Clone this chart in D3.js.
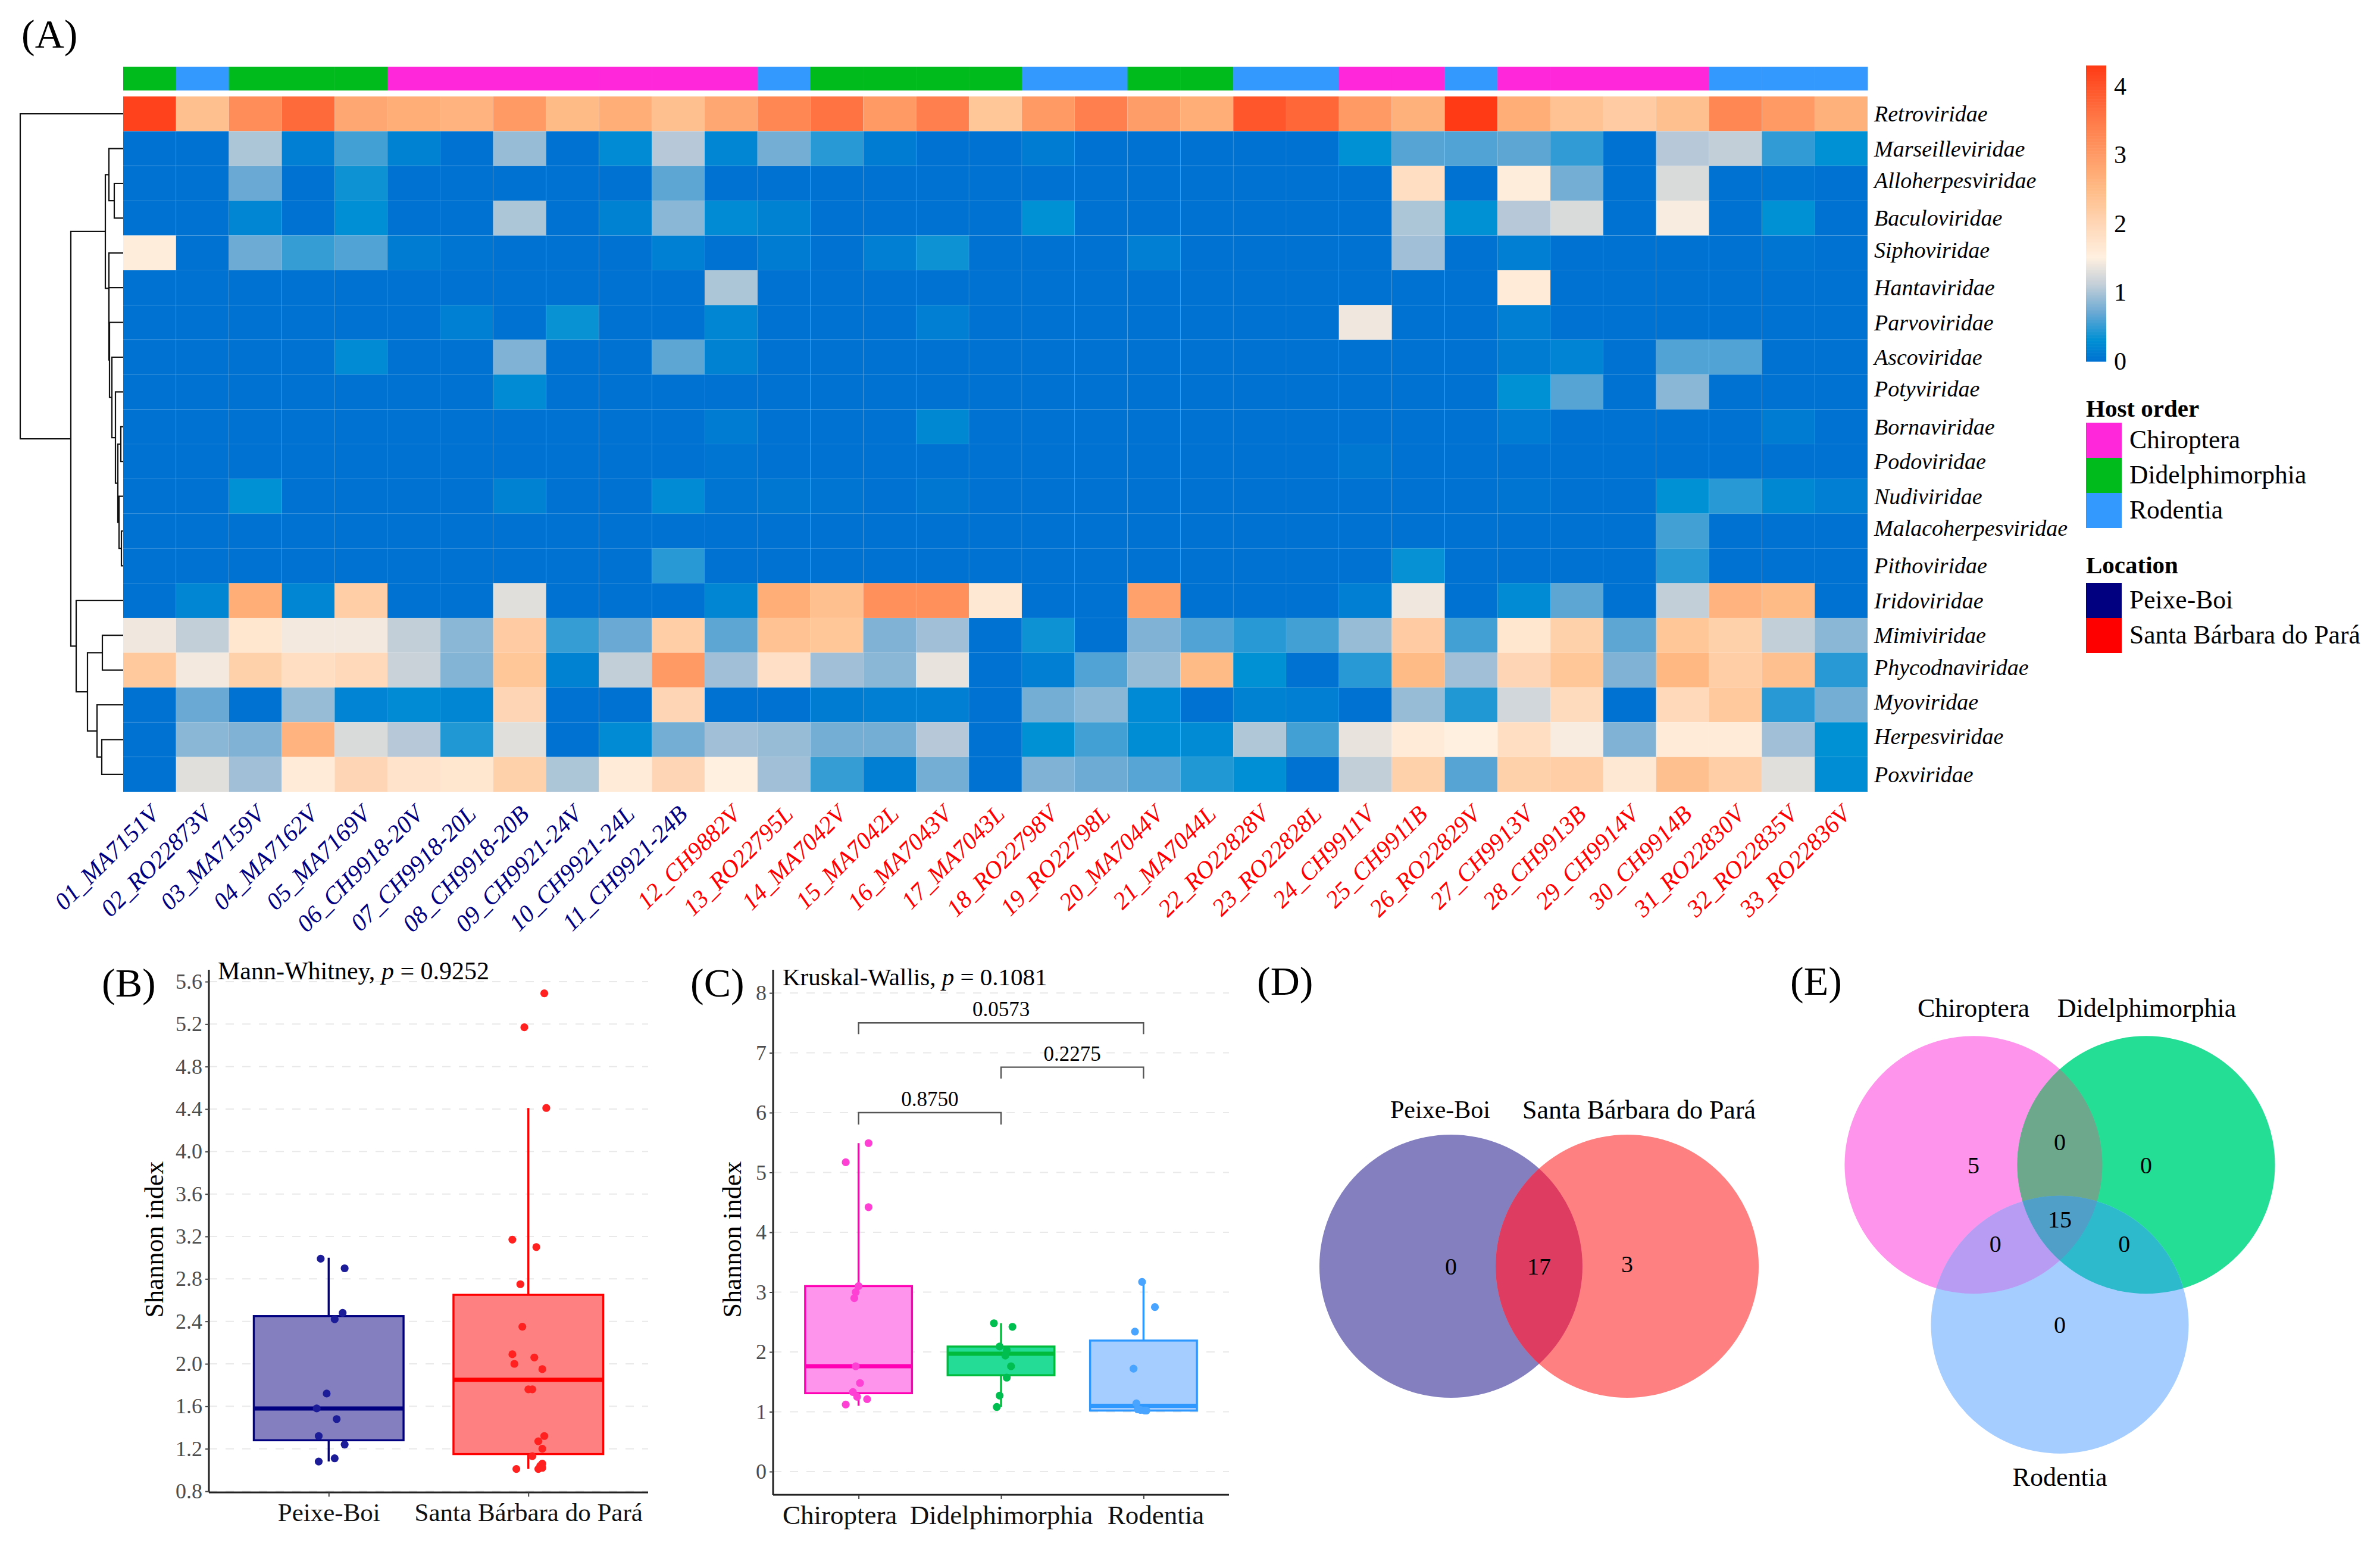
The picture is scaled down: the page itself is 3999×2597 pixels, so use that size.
<!DOCTYPE html>
<html><head><meta charset="utf-8">
<script src="https://cdnjs.cloudflare.com/ajax/libs/d3/7.8.5/d3.min.js"></script>
<style>html,body{margin:0;padding:0;background:#fff}svg{display:block}text{font-family:"Liberation Serif",serif}</style>
</head><body><svg id="c" width="3999" height="2597" xmlns="http://www.w3.org/2000/svg"></svg>
<script>
// ---------- DATA ----------
const samples=["01_MA7151V","02_RO22873V","03_MA7159V","04_MA7162V","05_MA7169V","06_CH9918-20V","07_CH9918-20L","08_CH9918-20B","09_CH9921-24V","10_CH9921-24L","11_CH9921-24B","12_CH9882V","13_RO22795L","14_MA7042V","15_MA7042L","16_MA7043V","17_MA7043L","18_RO22798V","19_RO22798L","20_MA7044V","21_MA7044L","22_RO22828V","23_RO22828L","24_CH9911V","25_CH9911B","26_RO22829V","27_CH9913V","28_CH9913B","29_CH9914V","30_CH9914B","31_RO22830V","32_RO22835V","33_RO22836V"];
const hostOf=["D","R","D","D","D","C","C","C","C","C","C","C","R","D","D","D","D","R","R","D","D","R","R","C","C","R","C","C","C","C","R","R","R"];
const families=["Retroviridae","Marseilleviridae","Alloherpesviridae","Baculoviridae","Siphoviridae","Hantaviridae","Parvoviridae","Ascoviridae","Potyviridae","Bornaviridae","Podoviridae","Nudiviridae","Malacoherpesviridae","Pithoviridae","Iridoviridae","Mimiviridae","Phycodnaviridae","Myoviridae","Herpesviridae","Poxviridae"];
const retro=[4.2,2.4,3.2,3.7,2.8,2.7,2.6,3.0,2.5,2.7,2.4, 2.8,3.3,3.6,3.0,3.4,2.3,3.0,3.4,2.95,2.7,3.95, 3.75,3.0,2.65,4.3,2.7,2.35,2.2,2.4,3.3,3.0,2.65];
const marse=[0,0,1.0,.12,.55,.15,0,.9,0,.25,1.05, .2,.75,.45,.1,0,0,.1,0,0,0,0, 0,.3,.62,.6,.65,.48,0,1.05,1.1,.48,.3];
const allo=[0,0,.7,0,.35,0,0,0,0,0,.65, 0,0,0,0,0,0,0,0,0,0,0, 0,0,1.85,0,1.55,.75,0,1.25,0,.02,0];
const bacu=[0,0,.2,0,.28,0,0,1.0,0,.15,.85, .25,.15,0,0,0,0,.3,0,0,0,0, 0,0,1.0,.3,1.05,1.25,0,1.45,0,.3,0];
const sipho=[1.55,0,.72,.5,.6,.1,.03,0,0,0,.13, 0,.1,0,.12,.35,0,0,0,.12,0,0, 0,0,.95,0,.12,0,0,0,0,.02,0];
const hanta=[0,0,0,0,0,0,0,0,0,0,0, 1.0,0,0,0,0,0,0,0,0,0,0, 0,0,0,0,1.6,0,0,0,0,0,0];
const parvo=[0,0,0,0,0,0,.13,0,.33,0,0, .2,0,0,0,.12,0,0,0,0,0,0, 0,1.4,0,0,.12,0,0,0,0,0,0];
const asco=[0,0,0,0,.25,0,0,.8,0,0,.65, .15,0,0,0,0,0,0,0,0,0,0, 0,0,0,0,.1,.18,0,.6,.6,0,0];
const poty=[0,0,0,0,0,0,0,.25,0,0,0, 0,0,0,0,0,0,0,0,0,0,0, 0,0,0,0,.3,.62,0,.85,0,0,0];
const borna=[0,0,0,0,0,0,0,0,0,0,0, .1,0,0,0,.22,0,0,0,0,0,0, 0,0,0,0,.08,0,0,0,0,.1,0];
const podo=[0,0,0,0,0,0,0,0,0,0,0, .02,0,0,0,0,0,0,0,0,0,0, 0,.05,0,0,0,0,0,0,0,0,0];
const nudi=[0,0,.3,0,0,0,0,.15,0,0,.25, .03,.05,.03,0,.05,0,0,0,0,0,0, 0,0,0,0,.03,0,0,.3,.45,.22,.12];
const malaco=[0,0,0,0,0,0,0,0,0,0,0, 0,0,0,0,0,0,0,0,0,0,0, 0,0,0,0,0,0,0,.55,0,0,0];
const pitho=[0,0,0,0,0,0,0,0,0,0,.45, 0,0,0,0,0,0,0,0,0,0,0, 0,0,.32,0,0,0,0,.45,0,0,0];
const irido=[0,.2,2.7,.2,2.15,0,0,1.3,0,0,0, .2,2.7,2.4,3.15,3.15,1.65,0,0,2.9,0,0, 0,.12,1.4,0,.25,.65,0,1.1,2.6,2.5,0];
const mimi=[1.4,1.1,1.7,1.42,1.42,1.1,.85,2.2,.5,.7,2.15, .65,2.35,2.3,.8,.95,0,.35,0,.8,.6,.45, .55,.9,2.2,.55,1.7,2.1,.65,2.3,2.1,1.1,.85];
const phyco=[2.25,1.42,2.1,1.85,1.95,1.15,.82,2.3,.15,1.1,3.0, .95,1.8,.95,.85,1.35,0,.12,.6,.9,2.5,.3, 0,.45,2.5,.95,2.0,2.3,.8,2.55,2.15,2.4,.45];
const myo=[0,.7,0,.9,.18,.25,.2,2.0,0,0,2.0, 0,0,.1,.12,.12,0,.75,.85,.23,0,.15, .12,0,.9,.42,1.2,1.9,0,1.95,2.25,.45,.75];
const herpes=[0,.85,.8,2.6,1.25,1.05,.42,1.3,0,.25,.75, .95,.9,.75,.75,1.05,0,.3,.55,.27,.25,1.02, .55,1.35,1.6,1.5,1.85,1.45,.8,1.6,1.6,.95,.3];
const pox=[0,1.3,.95,1.6,2.0,1.75,1.7,2.1,1.0,1.6,2.0, 1.5,.95,.5,.12,.75,0,.8,.72,.63,.42,.28, 0,1.1,2.1,.62,2.1,2.15,1.65,2.4,2.15,1.3,.27];
const heatRows=[retro,marse,allo,bacu,sipho,hanta,parvo,asco,poty,borna,podo,nudi,malaco,pitho,irido,mimi,phyco,myo,herpes,pox];
const colorStops=[0,.3,.7,1.1,1.5,2,2.5,3,3.5,4.3];
const colorVals=["#0073d2","#0090d4","#6aa9d4","#c2ced8","#fff0e0","#ffd6b5","#ffbb85","#ff9a65","#ff7a48","#ff3a15"];
// dendrogram: [merge height, child, child]
const dendro=[173,"Retroviridae",[88,
 [30,[24,"Marseilleviridae",[15,"Alloherpesviridae","Baculoviridae"]],
  [24,"Siphoviridae",[24,"Hantaviridae",[23,"Parvoviridae",[19,"Ascoviridae",[13,"Potyviridae",[9,[4,"Bornaviridae","Podoviridae"],[7,"Nudiviridae",[3,"Malacoherpesviridae","Pithoviridae"]]]]]]]]],
 [79,"Iridoviridae",[60,[35,"Mimiviridae","Phycodnaviridae"],[44,"Myoviridae",[36,"Herpesviridae","Poxviridae"]]]]]];
const locGroups=["Peixe-Boi","Santa Bárbara do Pará"];
const hostGroups=["Chiroptera","Didelphimorphia","Rodentia"];
// box statistics: whisker low, Q1, median, Q3, whisker high
const pbStats=[1.08,1.28,1.58,2.45,3.0], sbStats=[1.01,1.15,1.85,2.65,4.41];
const chStats=[1.10,1.31,1.76,3.10,5.49], diStats=[1.08,1.61,1.97,2.09,2.48], roStats=[1.01,1.02,1.10,2.19,3.17];
const pbVals=[2.99,2.90,2.48,2.42,1.72,1.58,1.48,1.32,1.24,1.11,1.08], pbJit=[-.04,.08,.07,.03,-.01,-.06,.04,-.05,.08,.03,-.05];
const sbVals=[5.49,5.17,4.41,3.17,3.10,2.75,2.35,2.09,2.06,2.0,1.95,1.76,1.76,1.32,1.27,1.20,1.13,1.06,1.04,1.02,1.01,1.01];
const sbJit=[.08,-.02,.09,-.08,.04,-.04,-.03,-.08,.03,-.07,.07,0,.02,.08,.05,.07,.02,.07,.06,.07,-.06,.05];
const chVals=[5.49,5.17,4.42,3.10,3.0,2.9,1.76,1.48,1.33,1.25,1.21,1.12], chJit=[.07,-.09,.07,0,-.02,-.03,-.02,.01,-.04,-.01,.06,-.09];
const diVals=[2.48,2.42,2.09,2.03,1.94,1.76,1.57,1.27,1.08], diJit=[-.05,.08,-.01,.04,.03,.07,.04,-.01,-.03];
const roVals=[3.17,2.75,2.34,1.72,1.14,1.04,1.03,1.02,1.02], roJit=[-.01,.08,-.06,-.07,-.05,-.04,-.02,.01,.02];
const bTicks=[0.8,1.2,1.6,2.0,2.4,2.8,3.2,3.6,4.0,4.4,4.8,5.2,5.6], cTicks=[0,1,2,3,4,5,6,7,8];
const brackets=[{a:0,b:2,y:7.5,t:7.31,l:"0.0573"},{a:1,b:2,y:6.76,t:6.57,l:"0.2275"},{a:0,b:1,y:6.0,t:5.8,l:"0.8750"}];
// venn layout in unit-circle coordinates
const vennD=[{n:"Peixe-Boi",x:-.67,y:0},{n:"Santa Bárbara do Pará",x:.67,y:0}];
const vennE=[{n:"Chiroptera",x:-.67,y:-.62},{n:"Didelphimorphia",x:.67,y:-.62},{n:"Rodentia",x:0,y:.62}];
const vennDCounts=[{v:"0",x:-.67,y:0},{v:"17",x:0,y:0},{v:"3",x:.67,y:-.02}];
const vennECounts=[{v:"5",x:-.67,y:-.62},{v:"0",x:0,y:-.8},{v:"0",x:.67,y:-.62},{v:"15",x:0,y:-.2},{v:"0",x:-.5,y:-.01},{v:"0",x:.5,y:-.01},{v:"0",x:0,y:.62}];

// ---------- COLOURS ----------
const HOST={C:"#ff27d9",D:"#00bb1c",R:"#3399ff"}, NAVY="#000080", RED="#ff0000";
const heatColor=d3.scaleLinear().domain(colorStops).range(colorVals).clamp(true);
const svg=d3.select("#c");
svg.append("rect").attr("width",3999).attr("height",2597).attr("fill","#fff");
function T(g,x,y,s,size,o={}){const t=g.append("text").attr("x",x).attr("y",y).attr("font-size",size).text(s);
 Object.entries(o).forEach(([k,v])=>t.attr(k,v));return t;}

// ---------- PANEL LETTERS ----------
[["(A)",36,80],["(B)",171,1674],["(C)",1160,1674],["(D)",2112,1671],["(E)",3008,1671]].forEach(d=>T(svg,d[1],d[2],d[0],68,{fill:"#000"}));

// ---------- HEATMAP ----------
const gh=svg.append("g");
const xH=d3.scaleBand().domain(samples).range([207,3138]);
const yH=d3.scaleBand().domain(families).range([162,1330]);
gh.selectAll("rect.host").data(samples).join("rect").attr("class","host").attr("x",d=>xH(d)).attr("y",112).attr("width",xH.bandwidth()+.5).attr("height",40)
  .attr("fill",(d,i)=>HOST[hostOf[i]]);
families.forEach((f,r)=>{
 gh.append("g").selectAll("rect").data(heatRows[r]).join("rect")
  .attr("x",(d,i)=>xH(samples[i])).attr("y",yH(f)).attr("width",xH.bandwidth()).attr("height",yH.bandwidth())
  .attr("fill",d=>heatColor(d)).attr("stroke","#fff").attr("stroke-opacity",.06).attr("stroke-width",1);
 T(gh,3149,yH(f)+yH.bandwidth()/2+13-(/[pyg]/.test(f)?5:0),f,38,{"font-style":"italic",fill:"#000"});
});
samples.forEach((s,i)=>{
 const cx=xH(s)+xH.bandwidth()/2+18,cy=1370;
 T(gh,cx,cy,s,41,{"font-style":"italic","text-anchor":"end",fill:i<11?NAVY:RED,transform:`rotate(-45 ${cx} ${cy})`});
});
// dendrogram
const xD=d3.scaleLinear().domain([0,173]).range([207,34]);
const gd=svg.append("g").attr("fill","none").attr("stroke","#111").attr("stroke-width",2.2);
function drawTree(n){
 if(typeof n==="string")return {x:xD(0),y:yH(n)+yH.bandwidth()/2};
 const a=drawTree(n[1]),b=drawTree(n[2]),x=xD(n[0]);
 gd.append("path").attr("d",d3.line()([[a.x,a.y],[x,a.y],[x,b.y],[b.x,b.y]]));
 return {x,y:(a.y+b.y)/2};
}
drawTree(dendro);
// colour bar legend
const yC=d3.scaleLinear().domain([0,4.3]).range([607,110]);
svg.append("g").selectAll("rect").data(d3.range(0,4.3,.0215)).join("rect").attr("x",3505).attr("width",34)
 .attr("y",d=>yC(d+.0215)).attr("height",d=>yC(d)-yC(d+.0215)+.6).attr("fill",d=>heatColor(d));
[0,1,2,3,4].forEach(v=>T(svg,3552,yC(v)+14,v,42,{fill:"#000"}));
// categorical legends
function legend(title,ty,items,top){
 T(svg,3505,ty,title,41,{"font-weight":"bold",fill:"#000"});
 items.forEach((it,i)=>{svg.append("rect").attr("x",3505).attr("y",top+i*59).attr("width",60).attr("height",59).attr("fill",it[1]);
  T(svg,3578,top+i*59+43,it[0],43.5,{fill:"#000"});});
}
legend("Host order",700,[["Chiroptera",HOST.C],["Didelphimorphia",HOST.D],["Rodentia",HOST.R]],710);
legend("Location",963,[["Peixe-Boi",NAVY],["Santa Bárbara do Pará",RED]],979);

// ---------- BOX PANELS ----------
function boxPanel(o){
 const g=svg.append("g");
 const y=d3.scaleLinear().domain(o.dom).range(o.rng);
 const x=d3.scalePoint().domain(o.groups).range(o.xr).padding(.6);
 const w=x.step()*.75;
 // grid
 g.append("g").selectAll("line").data(o.ticks).join("line").attr("x1",o.xr[0]).attr("x2",o.xr[1]).attr("y1",d=>y(d)).attr("y2",d=>y(d))
  .attr("stroke","#e9e9e9").attr("stroke-width",2).attr("stroke-dasharray","14 14");
 o.groups.forEach((name,i)=>{
  const [lo,q1,med,q3,hi]=o.stats[i], c=o.cols[i], cx=x(name);
  const bg=g.append("g").attr("stroke",c.line).attr("stroke-width",3.4);
  bg.append("line").attr("x1",cx).attr("x2",cx).attr("y1",y(lo)).attr("y2",y(hi));
  bg.append("rect").attr("x",cx-w/2).attr("width",w).attr("y",y(q3)).attr("height",y(q1)-y(q3)).attr("fill",c.fill);
  bg.append("line").attr("x1",cx-w/2).attr("x2",cx+w/2).attr("y1",y(med)).attr("y2",y(med)).attr("stroke-width",7);
  g.append("g").selectAll("circle").data(o.vals[i]).join("circle").attr("cx",(d,j)=>cx+o.jit[i][j]*x.step()).attr("cy",d=>y(d)).attr("r",6.6).attr("fill",c.pt);
 });
 const ax=g.append("g").attr("transform",`translate(${o.xr[0]},0)`).call(d3.axisLeft(y).tickValues(o.ticks).tickSize(6).tickFormat(o.fmt));
 ax.select(".domain").attr("d",`M0,${o.top}V${o.rng[0]+o.bottomPad}`).attr("stroke","#222").attr("stroke-width",3);
 ax.selectAll(".tick line").attr("stroke","#444").attr("stroke-width",2);
 ax.selectAll(".tick text").attr("font-size",36).attr("fill","#4d4d4d").attr("x",-11).attr("font-family","Liberation Serif");
 const bx=g.append("g").attr("transform",`translate(0,${o.rng[0]+o.bottomPad})`).call(d3.axisBottom(x).tickSize(7));
 bx.select(".domain").attr("d",`M${o.xr[0]},0H${o.xr[1]}`).attr("stroke","#222").attr("stroke-width",3);
 bx.selectAll(".tick line").attr("stroke","#444").attr("stroke-width",2);
 bx.selectAll(".tick text").attr("font-size",o.xfs).attr("fill","#111").attr("y",17).attr("font-family","Liberation Serif").attr("dx",(d,i)=>o.xOff[i]);
 const tx=o.yLabX,ty=2082;
 T(g,tx,ty,"Shannon index",44,{"text-anchor":"middle",fill:"#000",transform:`rotate(-90 ${tx} ${ty})`});
 const t=T(g,o.title[0],o.title[1],o.title[2],o.title[3],{fill:"#000"});
 t.append("tspan").attr("font-style","italic").text("p");t.append("tspan").text(o.title[4]);
 return {x,y,g};
}
boxPanel({dom:[.8,5.6],rng:[2505,1649],xr:[351,1089],top:1629,bottomPad:2,groups:locGroups,ticks:bTicks,fmt:d3.format(".1f"),
 stats:[pbStats,sbStats],vals:[pbVals,sbVals],jit:[pbJit,sbJit],xfs:43,xOff:[0,0],yLabX:274,
 cols:[{line:NAVY,fill:"#8480c0",pt:"#1c1c98"},{line:RED,fill:"#ff8080",pt:"#ff2020"}],
 title:[366,1645,"Mann-Whitney, ",42," = 0.9252"]});
const pc=boxPanel({dom:[0,8],rng:[2472,1668],xr:[1299,2065],top:1629,bottomPad:39,groups:hostGroups,ticks:cTicks,fmt:d3.format("d"),
 stats:[chStats,diStats,roStats],vals:[chVals,diVals,roVals],jit:[chJit,diJit,roJit],xfs:45,xOff:[-32,0,20],yLabX:1245,
 cols:[{line:"#ff00b4",fill:"#ff94ec",pt:"#ff40d4"},{line:"#00bb3c",fill:"#24dc96",pt:"#00bf50"},{line:"#2e98ff",fill:"#a5cdff",pt:"#48a4ff"}],
 title:[1315,1655,"Kruskal-Wallis, ",41," = 0.1081"]});
brackets.forEach(b=>{
 const xa=pc.x(hostGroups[b.a]),xb=pc.x(hostGroups[b.b]);
 pc.g.append("path").attr("d",d3.line()([[xa,pc.y(b.t)],[xa,pc.y(b.y)],[xb,pc.y(b.y)],[xb,pc.y(b.t)]])).attr("fill","none").attr("stroke","#555").attr("stroke-width",2.4);
 T(pc.g,(xa+xb)/2,pc.y(b.y)-11,b.l,35,{"text-anchor":"middle",fill:"#000"});
});

// ---------- VENN ----------
function clip(id,c,cl){const p=svg.append("clipPath").attr("id",id);if(cl)p.attr("clip-path",`url(#${cl})`);
 p.append("circle").attr("cx",c.cx).attr("cy",c.cy).attr("r",c.r);}
function circ(c,fill,cl){const e=svg.append("circle").attr("cx",c.cx).attr("cy",c.cy).attr("r",c.r).attr("fill",fill);if(cl)e.attr("clip-path",`url(#${cl})`);return e;}
// D
const r2=221, sxD=d3.scaleLinear().domain([-1,1]).range([2586-r2,2586+r2]), syD=d3.scaleLinear().domain([-1,1]).range([2127-r2,2127+r2]);
const cD=vennD.map(d=>({cx:sxD(d.x),cy:syD(d.y),r:r2}));
circ(cD[0],"#8480c0");circ(cD[1],"#ff8080");clip("cD0",cD[0]);circ(cD[1],"#de3c60","cD0");
T(svg,2420,1878,vennD[0].n,42,{"text-anchor":"middle",fill:"#000"});
T(svg,2754,1879,vennD[1].n,44,{"text-anchor":"middle",fill:"#000"});
vennDCounts.forEach(d=>T(svg,sxD(d.x),syD(d.y)+14,d.v,40,{"text-anchor":"middle",fill:"#000"}));
// E
const r3=216.5, sxE=d3.scaleLinear().domain([-1,1]).range([3461-r3,3461+r3]), syE=d3.scaleLinear().domain([-1,1]).range([2091-r3,2091+r3]);
const cE=vennE.map(d=>({cx:sxE(d.x),cy:syE(d.y),r:r3}));
circ(cE[0],"#ff94ec");circ(cE[1],"#24de96");circ(cE[2],"#a5cdff");
clip("cE0",cE[0]);clip("cE1",cE[1]);clip("cE2",cE[2]);
circ(cE[1],"#6ea88c","cE0");circ(cE[2],"#b89cf4","cE0");circ(cE[2],"#2cbacc","cE1");
svg.append("g").attr("clip-path","url(#cE0)").append("g").attr("clip-path","url(#cE1)").append("circle").attr("cx",cE[2].cx).attr("cy",cE[2].cy).attr("r",r3).attr("fill","#509fc8");
T(svg,3316,1708,vennE[0].n,44,{"text-anchor":"middle",fill:"#000"});
T(svg,3607,1708,vennE[1].n,44,{"text-anchor":"middle",fill:"#000"});
T(svg,3461,2496,vennE[2].n,44,{"text-anchor":"middle",fill:"#000"});
vennECounts.forEach(d=>T(svg,sxE(d.x),syE(d.y)+14,d.v,40,{"text-anchor":"middle",fill:"#000"}));
</script></body></html>
